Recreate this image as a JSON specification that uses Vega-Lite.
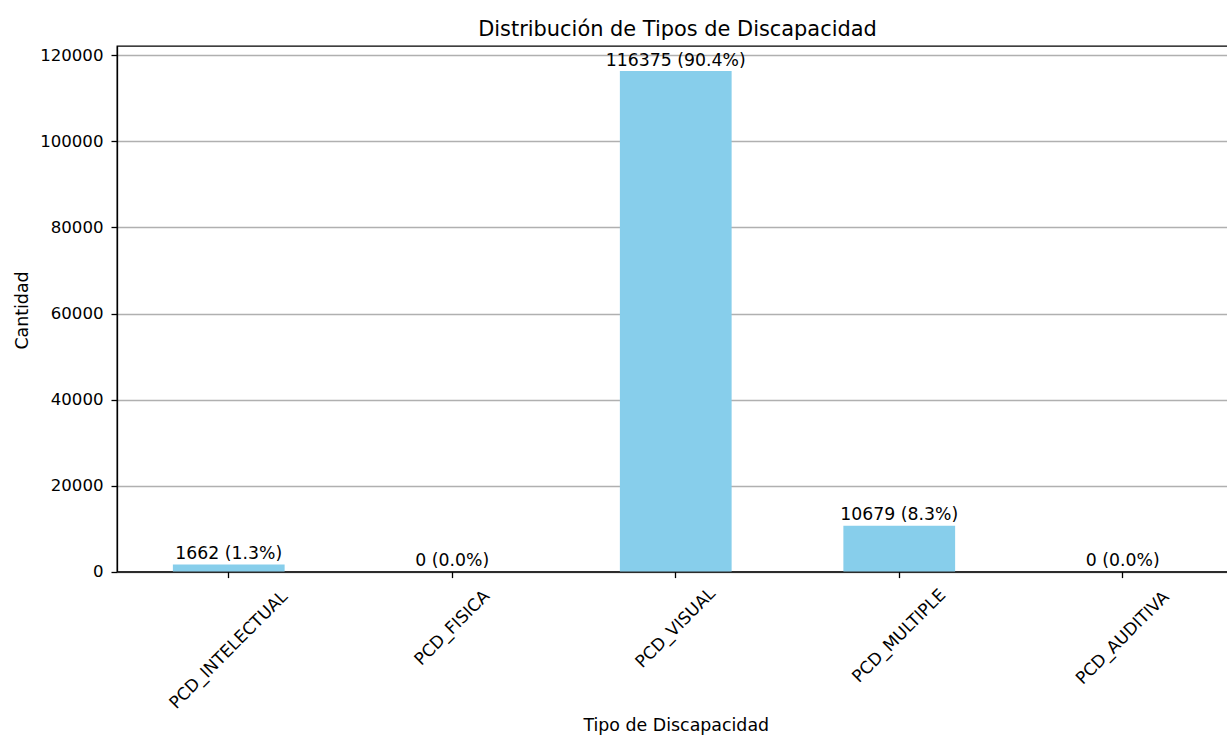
{
  "$schema": "https://vega.github.io/schema/vega-lite/v6.json",
  "width": 1111,
  "height": 525.6,
  "autosize": {"type": "none"},
  "padding": {"left": 117, "top": 46, "right": 0, "bottom": 164.4},
  "background": "white",
  "title": {
    "text": "Distribución de Tipos de Discapacidad",
    "font": "DejaVu Sans",
    "fontSize": 20.9,
    "fontWeight": "normal",
    "color": "black",
    "anchor": "middle",
    "frame": "group",
    "baseline": "bottom",
    "offset": -15,
    "dx": 5
  },
  "config": {
    "view": {"stroke": "black", "strokeWidth": 1.3},
    "font": "DejaVu Sans",
    "axis": {
      "labelFont": "DejaVu Sans",
      "titleFont": "DejaVu Sans",
      "labelFontSize": 17,
      "titleFontSize": 17.4,
      "titleFontWeight": "normal",
      "labelColor": "black",
      "titleColor": "black",
      "domainColor": "black",
      "domainWidth": 1.3,
      "tickColor": "black",
      "tickWidth": 1.3,
      "tickSize": 6
    }
  },
  "data": {
    "values": [
      {"tipo": "PCD_INTELECTUAL", "cantidad": 1662, "label": "1662 (1.3%)"},
      {"tipo": "PCD_FISICA", "cantidad": 0, "label": "0 (0.0%)"},
      {"tipo": "PCD_VISUAL", "cantidad": 116375, "label": "116375 (90.4%)"},
      {"tipo": "PCD_MULTIPLE", "cantidad": 10679, "label": "10679 (8.3%)"},
      {"tipo": "PCD_AUDITIVA", "cantidad": 0, "label": "0 (0.0%)"}
    ]
  },
  "encoding": {
    "x": {
      "field": "tipo",
      "type": "nominal",
      "sort": null,
      "scale": {"range": [0, 1117.5], "paddingInner": 0.5, "paddingOuter": 0.25},
      "axis": {
        "title": "Tipo de Discapacidad",
        "titleY": 145,
        "titleBaseline": "top",
        "grid": false,
        "labelAngle": -45,
        "labelAlign": "center",
        "labelBaseline": "middle",
        "labelPadding": {
          "condition": [
            {"test": "datum.value === 'PCD_INTELECTUAL'", "value": 72},
            {"test": "datum.value === 'PCD_MULTIPLE'", "value": 58},
            {"test": "datum.value === 'PCD_AUDITIVA'", "value": 60}
          ],
          "value": 50
        }
      }
    },
    "y": {
      "field": "cantidad",
      "type": "quantitative",
      "scale": {"domain": [0, 122194], "nice": false, "zero": true},
      "axis": {
        "title": "Cantidad",
        "titleX": -95,
        "titleY": 264,
        "titleAlign": "center",
        "titleBaseline": "middle",
        "values": [0, 20000, 40000, 60000, 80000, 100000, 120000],
        "format": "d",
        "labelFontSize": 16.6,
        "labelPadding": 8,
        "grid": true,
        "gridColor": "#b0b0b0",
        "gridWidth": 1.3
      }
    }
  },
  "layer": [
    {"mark": {"type": "bar", "color": "#87CEEB"}},
    {
      "mark": {
        "type": "text",
        "baseline": "bottom",
        "dy": -1.5,
        "font": "DejaVu Sans",
        "fontSize": 17.3,
        "color": "black"
      },
      "encoding": {"text": {"field": "label"}}
    }
  ]
}
